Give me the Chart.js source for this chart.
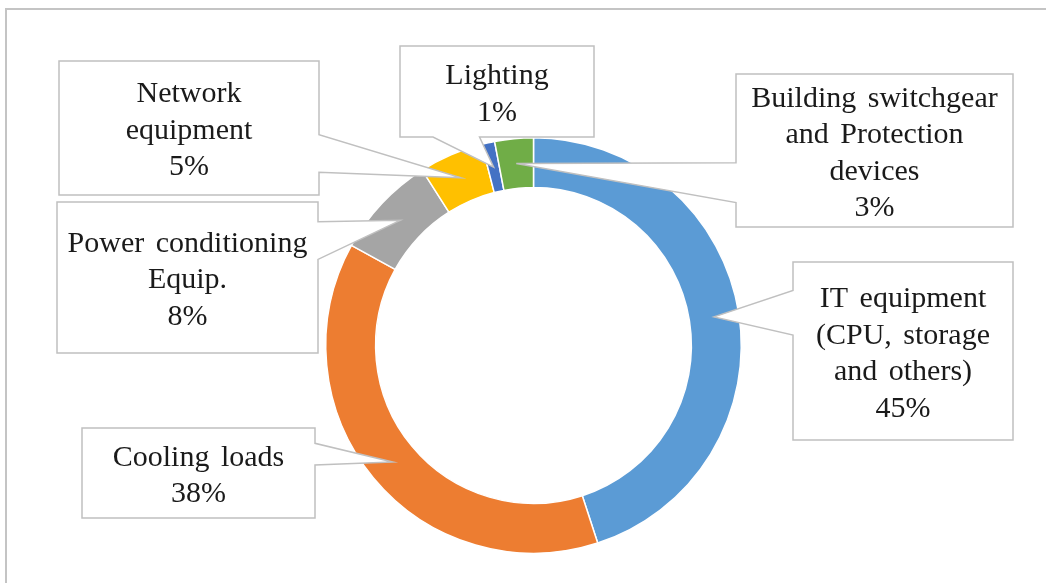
<!DOCTYPE html>
<html>
<head>
<meta charset="utf-8">
<script src="https://cdn.jsdelivr.net/npm/chart.js@4.4.1/dist/chart.umd.min.js"></script>
<style>
  html, body { margin: 0; padding: 0; background: #fff; }
  #wrap { position: relative; width: 1046px; height: 583px; }
</style>
</head>
<body>
<div id="wrap"><canvas id="myChart" width="1046" height="583"></canvas></div>
<script>
// categories, clockwise from 12 o'clock
var categories = [
  ['IT equipment', '(CPU, storage', 'and others)'],
  ['Cooling loads'],
  ['Power conditioning', 'Equip.'],
  ['Network', 'equipment'],
  ['Lighting'],
  ['Building switchgear', 'and Protection', 'devices']
];
var shares = [45, 38, 8, 5, 1, 3];
var colors = ['#5B9BD5', '#ED7D31', '#A5A5A5', '#FFC000', '#4472C4', '#70AD47'];

// callout boxes: rect + which side the pointer leaves from (fractions along that side)
var callouts = [
  { x0: 793, y0: 262, x1: 1013, y1: 440, side: 'left',   a: 0.16, b: 0.41 },
  { x0: 82,  y0: 428, x1: 315,  y1: 518, side: 'right',  a: 0.17, b: 0.41 },
  { x0: 57,  y0: 202, x1: 318,  y1: 353, side: 'right',  a: 0.13, b: 0.38 },
  { x0: 59,  y0: 61,  x1: 319,  y1: 195, side: 'right',  a: 0.55, b: 0.83 },
  { x0: 400, y0: 46,  x1: 594,  y1: 137, side: 'bottom', a: 0.17, b: 0.41 },
  { x0: 736, y0: 74,  x1: 1013, y1: 227, side: 'left',   a: 0.58, b: 0.84 }
];

var framePlugin = {
  id: 'frame',
  beforeDraw: function (chart) {
    var ctx = chart.ctx;
    ctx.save();
    ctx.fillStyle = '#fff';
    ctx.fillRect(0, 0, chart.width, chart.height);
    ctx.strokeStyle = '#c4c4c4';
    ctx.lineWidth = 2;
    ctx.beginPath();
    ctx.moveTo(6, chart.height + 5);
    ctx.lineTo(6, 9);
    ctx.lineTo(chart.width + 5, 9);
    ctx.stroke();
    ctx.restore();
  }
};

var calloutPlugin = {
  id: 'callouts',
  afterDatasetsDraw: function (chart) {
    var ctx = chart.ctx;
    var meta = chart.getDatasetMeta(0);
    var total = shares.reduce(function (s, v) { return s + v; }, 0);
    ctx.save();
    for (var i = 0; i < callouts.length; i++) {
      var c = callouts[i];
      var tip = meta.data[i].getCenterPoint();
      var w = c.x1 - c.x0, h = c.y1 - c.y0;
      ctx.beginPath();
      ctx.moveTo(c.x0, c.y0);
      ctx.lineTo(c.x1, c.y0);
      if (c.side === 'right') {
        ctx.lineTo(c.x1, c.y0 + c.a * h);
        ctx.lineTo(tip.x, tip.y);
        ctx.lineTo(c.x1, c.y0 + c.b * h);
      }
      ctx.lineTo(c.x1, c.y1);
      if (c.side === 'bottom') {
        ctx.lineTo(c.x0 + c.b * w, c.y1);
        ctx.lineTo(tip.x, tip.y);
        ctx.lineTo(c.x0 + c.a * w, c.y1);
      }
      ctx.lineTo(c.x0, c.y1);
      if (c.side === 'left') {
        ctx.lineTo(c.x0, c.y0 + c.b * h);
        ctx.lineTo(tip.x, tip.y);
        ctx.lineTo(c.x0, c.y0 + c.a * h);
      }
      ctx.closePath();
      ctx.fillStyle = '#fff';
      ctx.fill();
      ctx.strokeStyle = '#c0c0c0';
      ctx.lineWidth = 1.5;
      ctx.stroke();

      // text
      var lines = categories[i].concat([Math.round(shares[i] / total * 100) + '%']);
      var lh = 36.5;
      var cx = (c.x0 + c.x1) / 2;
      var cy = (c.y0 + c.y1) / 2 + 3;
      var startY = cy - (lines.length - 1) * lh / 2;
      ctx.fillStyle = '#1a1a1a';
      ctx.font = '30px "Liberation Serif", "Times New Roman", serif';
      ctx.wordSpacing = '4px';
      ctx.textAlign = 'center';
      ctx.textBaseline = 'middle';
      for (var j = 0; j < lines.length; j++) {
        ctx.fillText(lines[j], cx, startY + j * lh);
      }
    }
    ctx.restore();
  }
};

var ctx = document.getElementById('myChart');
var myChart = new Chart(ctx, {
  type: 'doughnut',
  data: {
    labels: categories,
    datasets: [{
      data: shares,
      backgroundColor: colors,
      borderColor: '#fff',
      borderWidth: 1.5
    }]
  },
  options: {
    responsive: false,
    animation: false,
    cutout: '76%',
    layout: { padding: { top: 137, bottom: 29, left: 21, right: 0 } },
    plugins: {
      legend: { display: false },
      tooltip: { enabled: false }
    }
  },
  plugins: [framePlugin, calloutPlugin]
});
</script>
</body>
</html>
